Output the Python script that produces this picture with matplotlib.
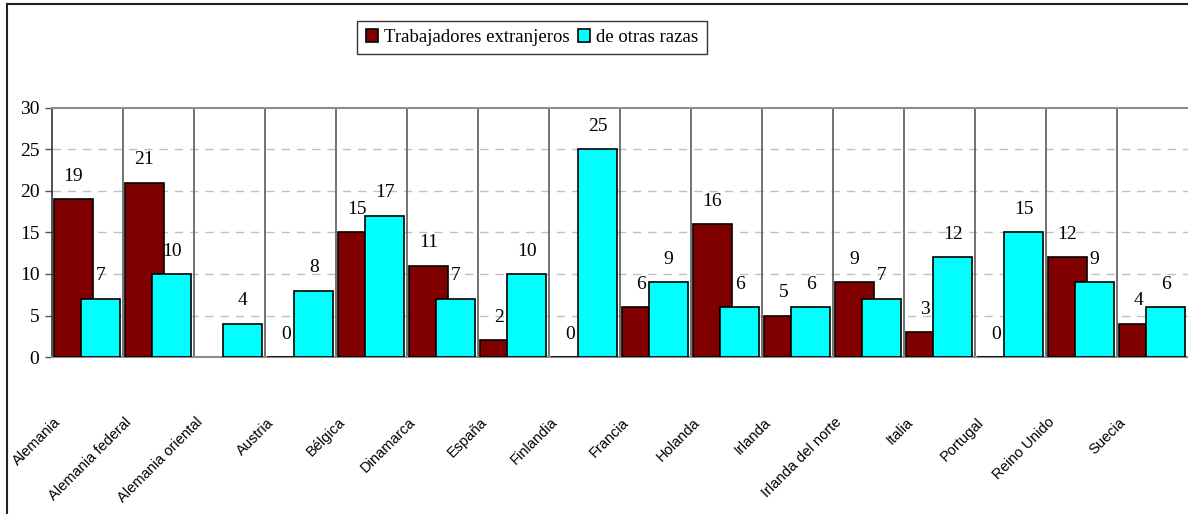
import numpy as np
import matplotlib
matplotlib.use("Agg")
import matplotlib.pyplot as plt
import matplotlib.transforms as mtransforms
from matplotlib.lines import Line2D

# =============================================================================
# DATA
# =============================================================================
paises = ["Alemania", "Alemania federal", "Alemania oriental", "Austria", "Bélgica",
          "Dinamarca", "España", "Finlandia", "Francia", "Holanda", "Irlanda",
          "Irlanda del norte", "Italia", "Portugal", "Reino Unido", "Suecia"]
extranjeros = [19, 21, np.nan, 0, 15, 11, 2, 0, 6, 16, 5, 9, 3, 0, 12, 4]
otras_razas = [7, 10, 4, 8, 17, 7, 10, 25, 9, 6, 6, 7, 12, 15, 9, 6]
series_names = ["Trabajadores extranjeros", "de otras razas"]
y_ticks = [0, 5, 10, 15, 20, 25, 30]

SERIF = ["Liberation Serif", "DejaVu Serif"]
NARROW = ["Liberation Sans Narrow", "Liberation Sans", "DejaVu Sans"]
RED = "#800000"
CYAN = "#00FFFF"

# =============================================================================
# PLOT
# =============================================================================
W, H = 1188, 514
fig = plt.figure(figsize=(W / 100, H / 100), dpi=100, facecolor="white")
ax = fig.add_axes([52 / W, 1 - 357 / H, (W - 52) / W, (357 - 108) / H])

x = np.arange(len(paises))
ext = np.array(extranjeros, dtype=float)
otr = np.array(otras_razas, dtype=float)
mask = ~np.isnan(ext)

bw = 0.555
b1 = ax.bar(x[mask] - 0.2, ext[mask], width=bw, color=RED, edgecolor="black",
            linewidth=1.2, zorder=3, label=series_names[0])
b2 = ax.bar(x + 0.185, otr, width=bw, color=CYAN, edgecolor="black",
            linewidth=1.2, zorder=4, label=series_names[1])

# value labels
for xi, v in zip(x[mask] - 0.2, ext[mask]):
    ax.annotate(f"{int(v)}", (xi, v), xytext=(0, 16.5), textcoords="offset points",
                ha="center", va="center", fontsize=14, family=SERIF, zorder=6)
for xi, v in zip(x + 0.185, otr):
    ax.annotate(f"{int(v)}", (xi, v), xytext=(0, 16.5), textcoords="offset points",
                ha="center", va="center", fontsize=14, family=SERIF, zorder=6)

# grid and category separators
for yv in y_ticks[1:-1]:
    ax.axhline(yv, color="#c0c0c0", linewidth=1, linestyle=(0, (6, 5)), zorder=1)
for k in range(1, len(paises)):
    ax.axvline(k - 0.5, color="#5a5a5a", linewidth=1.2, zorder=2)

ax.set_xlim(-0.5, len(paises) - 0.5)
ax.set_ylim(0, 30)
ax.set_yticks(y_ticks)
ax.set_yticklabels([str(t) for t in y_ticks], family=SERIF, fontsize=14)
ax.tick_params(axis="y", length=5, width=1, color="#555555", pad=4)

ax.set_xticks(x)
ax.set_xticklabels(paises, rotation=45, ha="right", va="top", fontsize=10.5,
                   family=NARROW)
ax.tick_params(axis="x", length=0, pad=42)
shift = mtransforms.ScaledTranslation(-0.24, 0, fig.dpi_scale_trans)
for lab in ax.get_xticklabels():
    lab.set_transform(lab.get_transform() + shift)

ax.spines["right"].set_visible(False)
ax.spines["top"].set_color("#8c8c8c")
ax.spines["top"].set_linewidth(1.5)
ax.spines["bottom"].set_color("#8c8c8c")
ax.spines["bottom"].set_linewidth(1.5)
ax.spines["left"].set_color("#333333")
ax.spines["left"].set_linewidth(1.2)

leg = fig.legend(handles=[b1, b2], labels=series_names, loc="center",
                 bbox_to_anchor=(532 / W, 1 - 37.5 / H), ncol=2, frameon=True,
                 fancybox=False, shadow=False, prop={"family": SERIF, "size": 13.5},
                 handlelength=0.65, handleheight=0.65, handletextpad=0.35,
                 columnspacing=0.4, borderpad=0.45, borderaxespad=0)
leg.get_frame().set_edgecolor("black")
leg.get_frame().set_linewidth(1.0)

# outer chart frame (top and left edges visible)
fig.add_artist(Line2D([7 / W, 1], [1 - 4 / H, 1 - 4 / H], transform=fig.transFigure,
                      color="#222222", linewidth=1.5))
fig.add_artist(Line2D([7 / W, 7 / W], [0, 1 - 4 / H], transform=fig.transFigure,
                      color="#222222", linewidth=1.5))

fig.savefig("out.png", dpi=100, facecolor="white")
